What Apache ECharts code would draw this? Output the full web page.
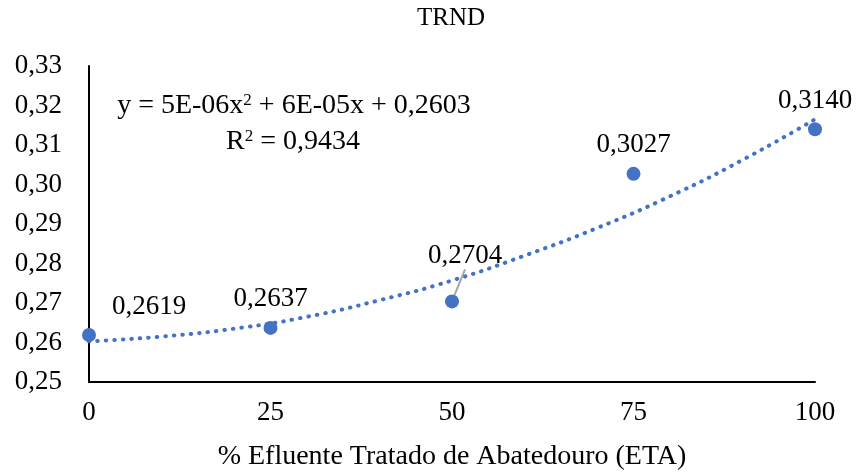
<!DOCTYPE html>
<html><head><meta charset="utf-8">
<script src="https://cdn.jsdelivr.net/npm/echarts@6/dist/echarts.min.js"></script>
<style>html,body{margin:0;padding:0;background:#fff}#c{width:856px;height:472px}</style>
</head><body><div id="c"></div>
<script>
const xValues = [0, 25, 50, 75, 100];
const yValues = [0.2619, 0.2637, 0.2704, 0.3027, 0.3140];
const trendX = [0, 10, 20, 30, 40, 50, 60, 70, 80, 90, 100];
const trendY = [0.2603, 0.2615, 0.2635, 0.2665, 0.2707, 0.2757, 0.2820, 0.2890, 0.2970, 0.3062, 0.3165];
const titleText = 'TRND';
const xName = '% Efluente Tratado de Abatedouro (ETA)';
const eqLine1 = 'y = 5E-06x{s|2} + 6E-05x + 0,2603';
const eqLine2 = 'R{s|2} = 0,9434';

const FF = '"Liberation Serif", "Times New Roman", serif';
const FS = 27;
const fmt = v => v.toFixed(2).replace('.', ',');
const sup = { s: { fontSize: 17, verticalAlign: 'top', padding: [0, 0, 10, 0], fontFamily: FF, fill: '#000' } };
const chart = echarts.init(document.getElementById('c'));
chart.setOption({
  animation: false,
  textStyle: { fontFamily: FF, color: '#000' },
  grid: { left: 89, right: 41, top: 66, bottom: 90, outerBoundsMode: 'none', containLabel: false },
  xAxis: {
    type: 'value', min: 0, max: 100, interval: 25,
    axisLine: { show: true, lineStyle: { color: '#000', width: 2 } },
    axisTick: { show: false }, splitLine: { show: false },
    axisLabel: { fontFamily: FF, fontSize: FS, color: '#000', margin: 17 },
    name: xName, nameLocation: 'middle', nameGap: 61,
    nameTextStyle: { fontFamily: FF, fontSize: 28, color: '#000' }
  },
  yAxis: {
    type: 'value', min: 0.25, max: 0.33, interval: 0.01,
    axisLine: { show: true, lineStyle: { color: '#000', width: 2 } },
    axisTick: { show: false }, splitLine: { show: false },
    axisLabel: { fontFamily: FF, fontSize: FS, color: '#000', margin: 27, formatter: fmt }
  },
  graphic: [
    { type: 'text', x: 451, y: 18, style: { text: titleText, fontFamily: FF, fontSize: 25, fill: '#000', align: 'center', verticalAlign: 'middle' } },
    { type: 'text', x: 294, y: 106, style: { text: eqLine1, fontFamily: FF, fontSize: 28, fill: '#000', align: 'center', verticalAlign: 'middle', rich: sup } },
    { type: 'text', x: 293, y: 142, style: { text: eqLine2, fontFamily: FF, fontSize: 28, fill: '#000', align: 'center', verticalAlign: 'middle', rich: sup } }
  ],
  series: [
    {
      type: 'line', data: trendX.map((x, i) => [x, trendY[i]]), smooth: true, symbol: 'none',
      lineStyle: { color: '#4472C4', width: 4, type: [0.5, 8], cap: 'round' }, z: 2, silent: true
    },
    {
      type: 'scatter', symbolSize: 14, itemStyle: { color: '#4472C4', opacity: 1 }, z: 3,
      data: xValues.map((x, i) => {
        const d = { value: [x, yValues[i]] };
        if (i === 2) d.labelLine = { show: true, lineStyle: { color: '#A6A6A6', width: 2 } };
        return d;
      }),
      label: {
        show: true, position: 'top', distance: 8, fontFamily: FF, fontSize: FS, color: '#000',
        formatter: p => p.value[1].toFixed(4).replace('.', ',')
      },
      labelLine: { show: false },
      labelLayout: function (p) {
        if (p.dataIndex === 0) return { dx: 60, dy: 0 };
        if (p.dataIndex === 2) return { dx: 13, dy: -17 };
        return {};
      }
    }
  ]
});
</script></body></html>
